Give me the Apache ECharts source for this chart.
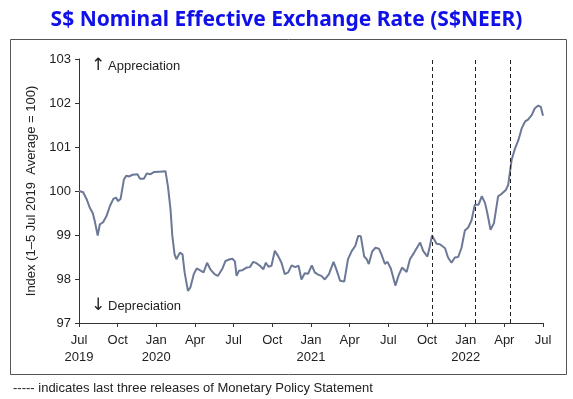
<!DOCTYPE html>
<html>
<head>
<meta charset="utf-8">
<script src="https://cdn.jsdelivr.net/npm/echarts@6/dist/echarts.min.js"></script>
<style>
html,body{margin:0;padding:0;background:#fff;}
#chart{width:573px;height:399px;}
</style>
</head>
<body>
<div id="chart"></div>
<script>
// ---- data ----
const dates = [
"2019-07-01","2019-07-11","2019-07-20","2019-07-27","2019-08-03","2019-08-08","2019-08-15","2019-08-20","2019-08-28",
"2019-09-05","2019-09-13","2019-09-21","2019-09-27","2019-10-02","2019-10-08","2019-10-16","2019-10-22","2019-10-28",
"2019-11-06","2019-11-17","2019-11-23","2019-12-02","2019-12-09","2019-12-17","2019-12-26","2020-01-09","2020-01-23",
"2020-01-29","2020-02-04","2020-02-08","2020-02-13","2020-02-17","2020-02-25","2020-03-02","2020-03-07","2020-03-15",
"2020-03-21","2020-03-29","2020-04-05","2020-04-14","2020-04-21","2020-04-29","2020-05-07","2020-05-17","2020-05-25",
"2020-06-05","2020-06-12","2020-06-22","2020-06-28","2020-07-04","2020-07-08","2020-07-14","2020-07-22","2020-08-01",
"2020-08-09","2020-08-17","2020-08-25","2020-09-02","2020-09-10","2020-09-16","2020-09-22","2020-09-29","2020-10-07",
"2020-10-15","2020-10-23","2020-10-31","2020-11-08","2020-11-16","2020-11-24","2020-12-02","2020-12-09","2020-12-17",
"2020-12-25","2021-01-03","2021-01-10","2021-01-18","2021-01-26","2021-02-03","2021-02-12","2021-02-22","2021-03-01",
"2021-03-09","2021-03-19","2021-03-28","2021-04-06","2021-04-14","2021-04-21","2021-04-27","2021-05-05","2021-05-11",
"2021-05-16","2021-05-24","2021-06-01","2021-06-09","2021-06-15","2021-06-23","2021-06-29","2021-07-07","2021-07-18",
"2021-07-26","2021-08-03","2021-08-14","2021-08-22","2021-09-01","2021-09-15","2021-09-22","2021-10-02","2021-10-08",
"2021-10-13","2021-10-24","2021-11-01","2021-11-13","2021-11-20","2021-11-28","2021-12-06","2021-12-14","2021-12-22",
"2021-12-30","2022-01-07","2022-01-15","2022-01-23","2022-02-01","2022-02-08","2022-02-15","2022-02-20","2022-02-27",
"2022-03-07","2022-03-17","2022-03-25","2022-04-05","2022-04-10","2022-04-18","2022-04-26","2022-05-04","2022-05-12",
"2022-05-20","2022-05-27","2022-06-05","2022-06-12","2022-06-20","2022-06-26","2022-07-01"
];
const sneer = [
100.00,99.97,99.80,99.62,99.50,99.31,98.99,99.24,99.29,
99.43,99.66,99.82,99.85,99.77,99.82,100.26,100.35,100.33,
100.37,100.38,100.28,100.28,100.40,100.38,100.43,100.44,100.45,
100.10,99.57,98.98,98.56,98.45,98.60,98.56,98.15,97.73,
97.81,98.11,98.24,98.19,98.15,98.37,98.22,98.11,98.07,
98.24,98.41,98.45,98.46,98.40,98.07,98.19,98.20,98.26,
98.27,98.39,98.36,98.30,98.22,98.37,98.28,98.30,98.64,
98.52,98.37,98.11,98.15,98.31,98.27,98.30,97.99,98.13,
98.12,98.31,98.15,98.10,98.07,97.99,98.11,98.39,98.19,
97.96,97.94,98.45,98.64,98.75,98.98,98.97,98.51,98.45,
98.34,98.62,98.71,98.69,98.56,98.34,98.39,98.24,97.85,
98.09,98.26,98.16,98.45,98.60,98.83,98.64,98.51,98.75,
98.99,98.80,98.79,98.70,98.49,98.37,98.49,98.50,98.71,
99.10,99.17,99.33,99.69,99.69,99.88,99.73,99.50,99.12,
99.27,99.88,99.93,100.03,100.14,100.71,100.97,101.16,101.43,
101.58,101.62,101.73,101.88,101.94,101.91,101.71
];
const mpsDates = ["2021-10-14","2022-01-25","2022-04-14"];
const monthNames = ["Jan","Feb","Mar","Apr","May","Jun","Jul","Aug","Sep","Oct","Nov","Dec"];
const startYear = 2019, startMonth = 7; // Jul 2019
const xMaxMonths = 36;   // Jul 2022
const yMin = 97, yMax = 103, yStep = 1;

// months elapsed since start (fractional)
function toMonths(s){
  const [y,m,d] = s.split("-").map(Number);
  const dim = new Date(y, m, 0).getDate();
  return (y - startYear) * 12 + (m - startMonth) + (d - 1) / dim;
}
const seriesData = dates.map((d,i)=>[toMonths(d), sneer[i]]);
const mpsLines = mpsDates.map(d=>({xAxis: toMonths(d)}));

function xLabel(v){
  const idx = Math.round(v);
  const abs = (startMonth - 1) + idx;
  const mon = abs % 12, yr = startYear + Math.floor(abs / 12);
  const name = monthNames[mon];
  if (idx === 0 || mon === 0) return name + "\n" + yr;
  return name;
}

const font = "'Liberation Sans', Arial, sans-serif";
const chart = echarts.init(document.getElementById('chart'), null, {renderer:'canvas'});
chart.setOption({
  animation:false,
  backgroundColor:'#fff',
  title:{
    text:'S$ Nominal Effective Exchange Rate (S$NEER)',
    left:'center', top:5,
    textStyle:{color:'#1010e8', fontSize:21, fontWeight:'bold', fontFamily:"'Noto Sans', sans-serif"}
  },
  grid:{left:79, right:30, top:59, bottom:76, containLabel:false},
  xAxis:{
    type:'value', min:0, max:xMaxMonths, interval:3,
    axisLine:{lineStyle:{color:'#333', width:1}},
    axisTick:{show:true, inside:false, length:4, lineStyle:{color:'#333'}},
    axisLabel:{formatter:xLabel, color:'#222', fontSize:13, fontFamily:font, lineHeight:17, margin:9},
    splitLine:{show:false}
  },
  yAxis:{
    type:'value', min:yMin, max:yMax, interval:yStep,
    name:'Index (1\u20135 Jul 2019  Average = 100)',
    nameLocation:'middle', nameGap:38, nameRotate:90,
    nameTextStyle:{color:'#222', fontSize:13, fontFamily:font},
    axisLine:{show:true, lineStyle:{color:'#333', width:1}},
    axisTick:{show:true, inside:false, length:4, lineStyle:{color:'#333'}},
    axisLabel:{color:'#222', fontSize:13, fontFamily:font, margin:8},
    splitLine:{show:false}
  },
  series:[{
    type:'line', data:seriesData, showSymbol:false, symbol:'none',
    lineStyle:{color:'#6b7896', width:2},
    markLine:{
      silent:true, symbol:['none','none'], label:{show:false},
      lineStyle:{color:'#222', type:[4,3], width:1},
      data:mpsLines
    }
  }],
  graphic:[
    {type:'rect', shape:{x:10.5, y:39.5, width:556, height:335}, style:{fill:'none', stroke:'#555', lineWidth:1}, z:-1},
    {type:'text', left:91, top:57, style:{text:'\u2191', fontSize:17, fontFamily:"'DejaVu Sans', sans-serif", fill:'#222'}},
    {type:'text', left:108, top:60, style:{text:'Appreciation', fontSize:13, fontFamily:font, fill:'#222'}},
    {type:'text', left:91, top:297, style:{text:'\u2193', fontSize:17, fontFamily:"'DejaVu Sans', sans-serif", fill:'#222'}},
    {type:'text', left:108, top:300, style:{text:'Depreciation', fontSize:13, fontFamily:font, fill:'#222'}},
    {type:'text', left:13, top:382, style:{text:'----- indicates last three releases of Monetary Policy Statement', fontSize:13, fontFamily:font, fill:'#222'}}
  ]
});
</script>
</body>
</html>
